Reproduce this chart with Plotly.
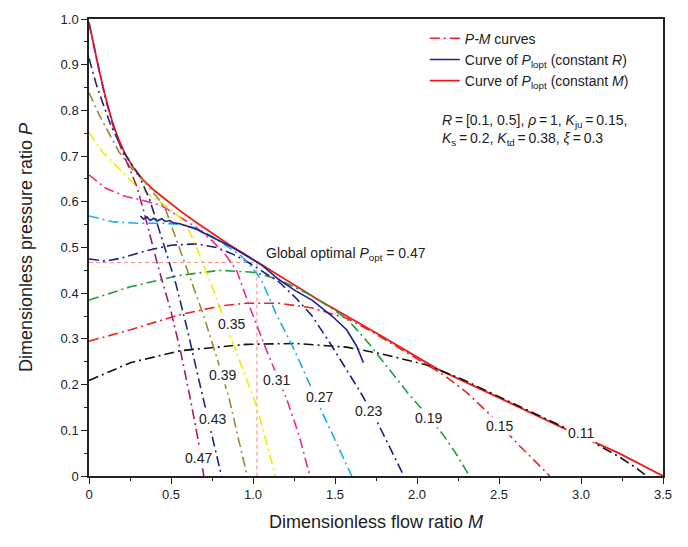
import plotly.graph_objects as go

# ---------------- data ----------------
R_labels = ["0.11", "0.15", "0.19", "0.23", "0.27", "0.31", "0.35", "0.39", "0.43", "0.47"]

M_011 = [0, 0.253, 0.554, 0.956, 1.257, 1.571, 1.774, 2.059, 2.261, 2.464, 2.666, 2.869, 3.0, 3.112, 3.233, 3.334, 3.40]
P_011 = [0.209, 0.248, 0.274, 0.288, 0.29, 0.282, 0.268, 0.243, 0.214, 0.18, 0.146, 0.112, 0.089, 0.066, 0.042, 0.018, 0.0]

M_015 = [0, 0.253, 0.554, 0.8, 0.956, 1.157, 1.357, 1.458, 1.573, 1.715, 1.867, 2.018, 2.16, 2.302, 2.464, 2.62, 2.72, 2.81]
P_015 = [0.295, 0.32, 0.353, 0.372, 0.378, 0.378, 0.368, 0.358, 0.345, 0.318, 0.285, 0.252, 0.222, 0.183, 0.128, 0.068, 0.032, 0.0]

M_019 = [0, 0.253, 0.554, 0.795, 1.0, 1.157, 1.357, 1.45, 1.571, 1.695, 1.816, 1.948, 2.069, 2.16, 2.245, 2.32]
P_019 = [0.385, 0.414, 0.439, 0.45, 0.446, 0.43, 0.395, 0.374, 0.345, 0.295, 0.24, 0.18, 0.13, 0.09, 0.045, 0.0]

M_023 = [0, 0.1, 0.2, 0.35, 0.5, 0.65, 0.78, 0.88, 0.96, 1.06, 1.157, 1.26, 1.357, 1.48, 1.571, 1.654, 1.755, 1.836, 1.92]
P_023 = [0.475, 0.47, 0.477, 0.493, 0.505, 0.508, 0.5, 0.485, 0.47, 0.448, 0.425, 0.39, 0.352, 0.285, 0.232, 0.184, 0.12, 0.06, 0.0]

M_027 = [0, 0.15, 0.3, 0.45, 0.55, 0.65, 0.75, 0.85, 0.92, 0.98, 1.05, 1.14, 1.26, 1.402, 1.505, 1.602]
P_027 = [0.569, 0.556, 0.553, 0.553, 0.551, 0.543, 0.525, 0.502, 0.484, 0.463, 0.43, 0.356, 0.27, 0.155, 0.075, 0.0]

M_031 = [0, 0.1, 0.22, 0.32, 0.44, 0.55, 0.65, 0.75, 0.82, 0.9, 0.98, 1.08, 1.205, 1.28, 1.347]
P_031 = [0.659, 0.63, 0.612, 0.604, 0.592, 0.568, 0.545, 0.515, 0.49, 0.45, 0.37, 0.277, 0.169, 0.09, 0.0]

M_035 = [0, 0.083, 0.183, 0.283, 0.384, 0.484, 0.554, 0.6, 0.65, 0.7, 0.75, 0.815, 0.916, 1.02, 1.085, 1.136]
P_035 = [0.752, 0.709, 0.673, 0.637, 0.612, 0.587, 0.566, 0.545, 0.505, 0.46, 0.415, 0.35, 0.256, 0.155, 0.07, 0.0]

M_039 = [0, 0.062, 0.122, 0.183, 0.263, 0.343, 0.424, 0.47, 0.52, 0.57, 0.634, 0.7, 0.77, 0.855, 0.912, 0.965]
P_039 = [0.839, 0.79, 0.75, 0.709, 0.671, 0.642, 0.606, 0.58, 0.53, 0.48, 0.42, 0.35, 0.27, 0.169, 0.08, 0.0]

M_043 = [0, 0.042, 0.083, 0.133, 0.223, 0.303, 0.37, 0.42, 0.47, 0.53, 0.6, 0.67, 0.74, 0.808]
P_043 = [0.914, 0.86, 0.817, 0.767, 0.702, 0.659, 0.605, 0.545, 0.49, 0.42, 0.32, 0.21, 0.1, 0.0]

M_047 = [0, 0.05, 0.1, 0.15, 0.2, 0.25, 0.29, 0.33, 0.37, 0.42, 0.5, 0.56, 0.62, 0.665, 0.70]
P_047 = [0.99, 0.905, 0.826, 0.762, 0.713, 0.67, 0.635, 0.585, 0.53, 0.46, 0.36, 0.27, 0.165, 0.08, 0.0]

# Curve of P_lopt at constant R (blue solid)
M_constR = [0.313, 0.333, 0.353, 0.373, 0.394, 0.414, 0.444, 0.464, 0.494, 0.514, 0.554, 0.594, 0.655,
            0.755, 0.855, 0.95, 1.056, 1.157, 1.26, 1.36, 1.485, 1.571, 1.632, 1.673]
P_constR = [0.569, 0.562, 0.567, 0.559, 0.564, 0.558, 0.563, 0.557, 0.559, 0.554, 0.552, 0.547, 0.54,
            0.522, 0.504, 0.484, 0.461, 0.43, 0.405, 0.385, 0.349, 0.32, 0.284, 0.248]

# Curve of P_lopt at constant M (red solid envelope)
M_constM = [0, 0.03, 0.06, 0.1, 0.14, 0.18, 0.22, 0.27, 0.33, 0.4, 0.48, 0.56, 0.65, 0.75, 0.86, 0.96,
            1.06, 1.16, 1.4, 1.765, 2.12, 2.525, 2.88, 3.23, 3.5]
P_constM = [0.993, 0.94, 0.89, 0.83, 0.778, 0.737, 0.705, 0.675, 0.648, 0.624, 0.601, 0.579, 0.556, 0.532,
            0.505, 0.483, 0.461, 0.438, 0.385, 0.31, 0.235, 0.167, 0.107, 0.05, 0.0]

# Global optimum
M_opt = 1.024
P_opt = 0.467

# Label positions on each P-M curve (M, P)
label_M = [2.998, 2.506, 2.073, 1.707, 1.404, 1.144, 0.866, 0.811, 0.751, 0.665]
label_P = [0.094, 0.11, 0.128, 0.142, 0.173, 0.211, 0.332, 0.22, 0.124, 0.04]

curve_M = [M_011, M_015, M_019, M_023, M_027, M_031, M_035, M_039, M_043, M_047]
curve_P = [P_011, P_015, P_019, P_023, P_027, P_031, P_035, P_039, P_043, P_047]
curve_colors = ["#111111", "#EE2222", "#1E9E3A", "#1C1C8A", "#1EAEEB", "#EE2A8A", "#F2EA00",
                "#9C8838", "#1C2A80", "#A21C6A"]

FONT = "Liberation Sans, Arial, sans-serif"
DASHDOT = "10px,4px,2px,4px"

fig = go.Figure()

# global optimum guide lines
fig.add_trace(go.Scatter(x=[0, M_opt, M_opt], y=[P_opt, P_opt, 0], mode="lines",
                         line=dict(color="#F38A80", width=1, dash="4px,3px"),
                         showlegend=False, hoverinfo="skip"))

# envelope (constant M)
fig.add_trace(go.Scatter(x=M_constM, y=P_constM, mode="lines",
                         line=dict(color="#F01818", width=1.8),
                         name="Curve of <i>P</i><sub>lopt</sub> (constant <i>M</i>)", legendrank=3))

for i, (mx, py, col) in enumerate(zip(curve_M, curve_P, curve_colors)):
    fig.add_trace(go.Scatter(x=mx, y=py, mode="lines",
                             line=dict(color=col, width=1.6, dash=DASHDOT),
                             name="R = " + R_labels[i], showlegend=False))

# legend entry for P-M curves
fig.add_trace(go.Scatter(x=[None], y=[None], mode="lines",
                         line=dict(color="#EE2222", width=1.6, dash=DASHDOT),
                         name="<i>P-M</i> curves", showlegend=True, legendrank=1))

fig.add_trace(go.Scatter(x=M_constR, y=P_constR, mode="lines",
                         line=dict(color="#1C2290", width=1.6),
                         name="Curve of <i>P</i><sub>lopt</sub> (constant <i>R</i>)", legendrank=2))

annotations = []
for lab, lx, ly in zip(R_labels, label_M, label_P):
    annotations.append(dict(x=lx, y=ly, xref="x", yref="y", text=lab, showarrow=False,
                            font=dict(family=FONT, size=14, color="#222222"),
                            bgcolor="white", borderpad=1))

annotations.append(dict(x=1.067, y=0.486, xref="x", yref="y", xanchor="left", yanchor="middle",
                        text="Global optimal <i>P</i><sub>opt</sub> = 0.47", showarrow=False,
                        font=dict(family=FONT, size=14, color="#222222")))

TS = "\u2009"
annotations.append(dict(x=2.14, y=0.758, xref="x", yref="y", xanchor="left", yanchor="middle",
                        align="left",
                        text=f"<i>R</i>{TS}={TS}[0.1, 0.5], <i>ρ</i>{TS}={TS}1, <i>K</i><sub>ju</sub>{TS}={TS}0.15,<br>"
                             f"<i>K</i><sub>s</sub>{TS}={TS}0.2, <i>K</i><sub>td</sub>{TS}={TS}0.38, <i>ξ</i>{TS}={TS}0.3",
                        showarrow=False, font=dict(family=FONT, size=14, color="#222222")))

fig.update_layout(
    width=688, height=547,
    margin=dict(l=89, r=25, t=13, b=71),
    paper_bgcolor="white", plot_bgcolor="white",
    font=dict(family=FONT, size=13, color="#222222"),
    showlegend=True,
    legend=dict(x=0.585, y=0.992, xanchor="left", yanchor="top",
                bgcolor="rgba(0,0,0,0)", font=dict(family=FONT, size=14, color="#222222"),
                tracegroupgap=0, itemwidth=30, traceorder="normal"),
    annotations=annotations,
)

fig.update_xaxes(range=[0, 3.5], showgrid=False, zeroline=False,
                 showline=True, linecolor="#222222", linewidth=1.5, mirror=True,
                 ticks="outside", ticklen=6, tickwidth=1.2, tickcolor="#222222",
                 tickvals=[0, 0.5, 1.0, 1.5, 2.0, 2.5, 3.0, 3.5],
                 ticktext=["0", "0.5", "1.0", "1.5", "2.0", "2.5", "3.0", "3.5"],
                 tickfont=dict(size=13),
                 minor=dict(ticks="outside", ticklen=3, tickwidth=1, tickcolor="#222222", dtick=0.25, tick0=0),
                 title=dict(text="Dimensionless flow ratio <i>M</i>", font=dict(size=18), standoff=14))

fig.update_yaxes(range=[0, 1.0], showgrid=False, zeroline=False,
                 showline=True, linecolor="#222222", linewidth=1.5, mirror=True,
                 ticks="outside", ticklen=6, tickwidth=1.2, tickcolor="#222222",
                 tickvals=[0, 0.1, 0.2, 0.3, 0.4, 0.5, 0.6, 0.7, 0.8, 0.9, 1.0],
                 ticktext=["0", "0.1", "0.2", "0.3", "0.4", "0.5", "0.6", "0.7", "0.8", "0.9", "1.0"],
                 tickfont=dict(size=13),
                 minor=dict(ticks="outside", ticklen=3, tickwidth=1, tickcolor="#222222", dtick=0.05, tick0=0),
                 title=dict(text="Dimensionless pressure ratio <i>P</i>", font=dict(size=18), standoff=23))

fig.write_html("out.html")
